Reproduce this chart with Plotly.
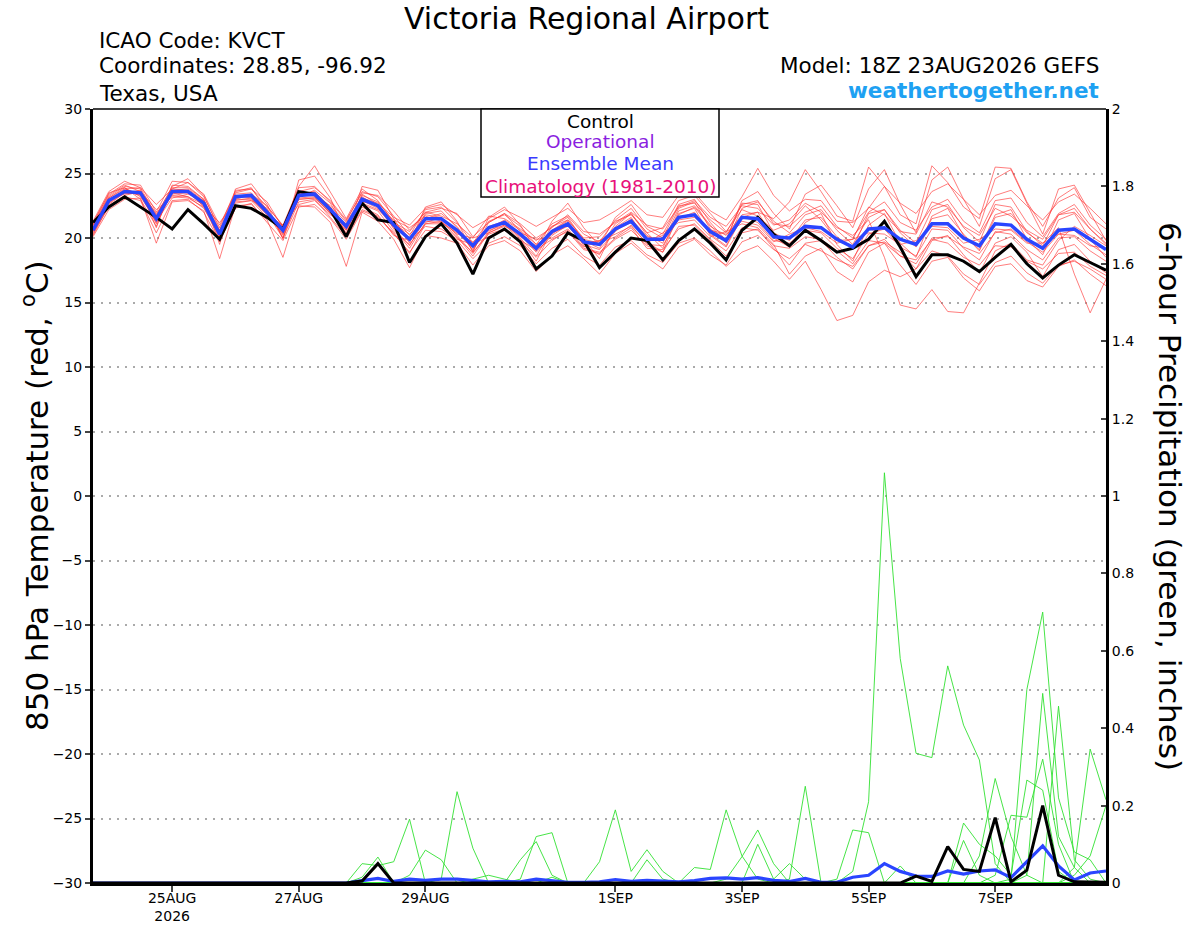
import plotly.graph_objects as go
import pandas as pd

# ---------------- data ----------------
times = pd.date_range("2026-08-23 18:00", periods=65, freq="6h")

control_temp = [21.2, 22.4, 23.2, 22.4, 21.6, 20.7, 22.2, 21.1, 19.9, 22.5, 22.3, 21.6, 20.7,
                23.6, 23.4, 22.2, 20.1, 22.7, 21.4, 21.2, 18.1, 20.1, 21.1, 19.6, 17.2, 20.0,
                20.7, 19.7, 17.6, 18.6, 20.4, 19.8, 17.7, 18.9, 20.0, 19.8, 18.3, 19.8, 20.7,
                19.6, 18.3, 20.6, 21.6, 20.3, 19.4, 20.6, 19.8, 18.9, 19.2, 19.9, 21.3, 19.3,
                17.0, 18.7, 18.7, 18.2, 17.4, 18.5, 19.5, 18.0, 16.9, 17.9, 18.7, 18.1, 17.5]

mean_temp = [20.6, 22.9, 23.6, 23.5, 21.5, 23.6, 23.6, 22.7, 20.3, 23.2, 23.3, 22.0, 20.6,
             23.3, 23.4, 22.2, 20.9, 23.0, 22.5, 21.0, 19.9, 21.5, 21.5, 20.6, 19.4, 20.8,
             21.2, 20.3, 19.2, 20.5, 21.1, 19.7, 19.5, 20.7, 21.3, 19.9, 19.9, 21.6, 21.8,
             20.5, 19.8, 21.6, 21.5, 20.1, 20.0, 20.9, 20.8, 19.9, 19.3, 20.7, 20.8, 19.9,
             19.5, 21.1, 21.1, 20.0, 19.4, 21.1, 21.0, 19.9, 19.2, 20.6, 20.7, 19.9, 19.1]

member_temps = [
    [21.0, 23.2, 24.0, 23.8, 20.8, 24.1, 24.0, 23.0, 19.5, 23.8, 24.2, 22.6, 19.9,
     24.5, 24.8, 23.1, 20.2, 24.0, 23.7, 21.5, 19.6, 22.4, 22.8, 21.3, 18.9, 21.6,
     22.4, 21.0, 19.0, 21.3, 22.7, 20.8, 19.4, 21.6, 22.6, 20.9, 20.3, 22.6, 23.0,
     21.2, 19.8, 22.9, 23.6, 21.9, 20.7, 23.4, 24.1, 22.5, 20.8, 23.8, 25.3, 22.6,
     20.4, 24.5, 25.5, 23.0, 20.9, 24.6, 25.3, 22.7, 20.3, 23.8, 24.1, 22.0, 19.8],
    [20.2, 22.5, 23.3, 23.6, 22.2, 23.2, 23.1, 22.4, 21.2, 22.8, 22.9, 21.6, 21.0,
     22.6, 22.9, 21.8, 21.0, 22.4, 21.8, 20.2, 19.8, 20.9, 20.7, 19.9, 19.5, 20.1,
     20.6, 19.8, 19.1, 19.9, 20.5, 19.1, 18.8, 19.9, 20.6, 19.4, 18.9, 20.9, 21.0,
     19.8, 18.6, 20.4, 20.7, 19.2, 17.9, 19.6, 19.8, 18.5, 17.6, 19.4, 19.7, 18.9,
     17.6, 19.8, 20.2, 18.7, 17.3, 19.6, 20.1, 18.9, 17.0, 19.1, 19.5, 18.2, 17.3],
    [20.9, 23.1, 23.9, 23.2, 21.3, 23.1, 23.4, 22.9, 20.5, 22.7, 22.9, 22.3, 20.0,
     22.8, 23.0, 21.6, 20.1, 22.2, 21.7, 20.3, 18.9, 20.6, 20.5, 19.8, 18.4, 19.6,
     20.1, 19.4, 18.0, 19.2, 19.9, 18.6, 17.9, 19.3, 19.8, 18.7, 18.1, 19.6, 20.0,
     19.0, 17.8, 18.9, 19.4, 18.2, 16.8, 18.2, 16.0, 13.6, 14.0, 16.6, 17.5, 17.0,
     17.6, 19.0, 18.6, 17.2, 16.4, 18.1, 18.6, 17.3, 16.5, 17.9, 18.2, 17.6, 16.8],
    [20.5, 22.7, 23.8, 23.9, 22.6, 23.8, 24.3, 23.4, 21.0, 23.5, 23.8, 22.8, 20.8,
     23.6, 23.9, 22.9, 21.4, 23.5, 23.3, 22.1, 20.6, 22.0, 22.3, 21.9, 20.1, 21.2,
     21.9, 21.1, 20.0, 20.8, 21.8, 20.5, 20.3, 21.2, 22.0, 21.0, 20.7, 22.4, 22.9,
     21.6, 20.9, 22.5, 22.3, 21.0, 21.4, 22.7, 22.0, 20.8, 20.2, 21.4, 18.5, 14.8,
     14.5, 16.0, 14.3, 14.2, 16.5, 19.0, 19.6, 18.3, 17.9, 19.8, 20.9, 20.2, 19.4],
    [20.4, 22.4, 23.2, 22.9, 20.4, 22.9, 23.0, 22.0, 19.7, 22.3, 22.7, 21.2, 19.8,
     22.4, 22.6, 21.5, 19.9, 22.1, 21.6, 20.4, 18.8, 21.1, 21.3, 20.1, 18.6, 20.4,
     21.0, 19.9, 18.2, 20.6, 21.4, 19.9, 18.4, 20.9, 21.9, 20.4, 19.2, 22.1, 22.5,
     21.0, 19.6, 22.3, 22.8, 21.3, 20.4, 21.8, 22.2, 20.6, 19.5, 21.6, 22.2, 20.4,
     19.3, 21.5, 21.8, 20.3, 19.0, 21.6, 21.9, 20.4, 19.6, 20.8, 17.2, 14.2, 16.8],
    [21.3, 23.6, 24.4, 23.9, 21.7, 24.0, 24.6, 23.3, 20.6, 23.6, 23.9, 22.1, 20.7,
     24.0, 25.6, 23.6, 21.5, 23.8, 22.9, 21.2, 20.5, 22.0, 21.7, 21.1, 20.0, 21.7,
     21.5, 20.7, 19.8, 20.9, 21.4, 20.0, 20.1, 21.3, 21.8, 20.4, 20.8, 22.9, 23.3,
     21.9, 20.5, 22.2, 21.7, 20.6, 21.1, 22.5, 21.4, 19.8, 19.9, 22.4, 21.8, 20.5,
     20.3, 22.8, 22.4, 20.9, 20.2, 22.3, 21.7, 20.6, 19.9, 21.8, 22.0, 20.7, 19.6],
    [20.7, 23.0, 23.4, 23.6, 21.9, 23.5, 23.2, 22.6, 20.1, 23.0, 23.0, 21.8, 20.3,
     23.1, 23.2, 21.9, 20.6, 22.9, 22.3, 20.8, 19.4, 21.5, 21.9, 20.9, 19.2, 20.7,
     21.4, 20.6, 19.5, 20.3, 21.2, 19.9, 19.6, 20.1, 21.0, 19.5, 19.4, 21.5, 22.0,
     20.3, 19.4, 21.7, 21.2, 19.8, 19.6, 20.6, 20.4, 19.2, 18.4, 20.3, 20.7, 19.3,
     18.6, 20.7, 20.6, 19.2, 18.3, 20.5, 20.3, 19.1, 18.3, 20.0, 20.1, 19.0, 18.2],
    [20.6, 22.8, 23.7, 23.3, 21.2, 23.7, 23.8, 22.9, 20.2, 23.4, 23.5, 22.2, 20.4,
     23.4, 23.6, 22.4, 20.7, 23.3, 22.8, 21.3, 20.0, 21.8, 21.6, 20.5, 19.1, 20.9,
     21.3, 20.2, 18.9, 20.2, 21.0, 19.5, 19.1, 20.5, 21.5, 20.1, 19.8, 21.8, 22.4,
     20.9, 20.2, 21.8, 22.0, 21.5, 22.8, 25.3, 23.6, 21.7, 21.3, 25.5, 24.0, 21.8,
     21.1, 25.6, 24.3, 22.4, 21.5, 25.5, 25.4, 22.8, 20.9, 23.1, 23.9, 21.6, 20.7],
    [20.1, 22.2, 23.0, 23.1, 19.6, 22.8, 22.9, 22.1, 18.4, 22.5, 22.6, 21.4, 18.5,
     22.5, 22.4, 21.2, 17.8, 22.0, 21.3, 19.9, 17.7, 20.2, 20.0, 19.6, 17.9, 19.4,
     19.8, 19.0, 17.4, 18.7, 19.4, 18.4, 17.2, 18.8, 19.6, 18.5, 17.6, 19.3, 19.9,
     18.7, 17.9, 19.7, 20.2, 19.1, 18.4, 19.5, 19.0, 18.3, 17.8, 19.4, 19.9, 18.6,
     18.0, 20.0, 20.1, 19.3, 18.8, 20.4, 20.7, 19.7, 18.9, 20.3, 20.6, 19.5, 18.7],
    [21.1, 23.5, 23.9, 23.0, 20.9, 23.8, 23.7, 22.4, 19.9, 23.3, 23.1, 21.9, 20.0,
     23.2, 23.7, 22.7, 20.6, 23.4, 22.6, 21.0, 19.9, 21.9, 22.1, 20.8, 19.0, 21.2,
     21.9, 20.5, 19.0, 20.9, 21.6, 19.8, 19.2, 21.1, 21.9, 20.2, 19.6, 22.3, 22.8,
     20.7, 19.9, 22.7, 22.6, 20.4, 19.8, 21.4, 21.6, 20.1, 19.2, 21.9, 22.2, 20.6,
     19.6, 22.2, 22.6, 20.8, 19.7, 22.6, 22.4, 20.5, 19.4, 21.8, 22.3, 20.7, 19.5],
    [20.8, 22.9, 23.5, 23.4, 21.4, 23.4, 23.5, 22.5, 20.6, 23.1, 23.4, 22.0, 20.9,
     23.0, 23.1, 22.0, 21.1, 22.7, 22.2, 21.1, 20.3, 21.3, 21.2, 20.4, 19.7, 20.6,
     21.0, 20.1, 19.4, 20.4, 20.9, 19.6, 19.8, 20.6, 21.2, 19.8, 20.2, 21.4, 21.6,
     20.6, 20.3, 21.3, 21.0, 19.7, 20.3, 20.8, 20.5, 19.6, 19.9, 20.4, 20.3, 19.5,
     19.8, 20.9, 20.8, 19.6, 19.9, 20.7, 20.6, 19.6, 19.6, 20.3, 20.2, 19.4, 19.2],
    [20.3, 22.6, 23.5, 23.7, 21.8, 23.9, 23.9, 23.0, 20.4, 23.0, 23.4, 22.5, 20.9,
     23.5, 23.3, 22.5, 21.2, 23.2, 22.4, 21.4, 20.8, 21.7, 21.3, 20.3, 20.0, 20.4,
     20.9, 20.4, 19.9, 20.0, 20.7, 19.3, 19.8, 20.3, 20.9, 19.6, 20.4, 21.2, 21.4,
     20.1, 20.5, 21.1, 20.8, 19.5, 17.2, 18.6, 19.2, 17.4, 16.6, 18.9, 19.6, 17.9,
     16.4, 18.2, 18.5, 16.9, 15.9, 17.8, 18.0, 16.7, 16.2, 17.8, 18.3, 17.2, 16.3],
    [21.0, 23.3, 24.1, 23.6, 21.1, 23.6, 23.5, 22.8, 20.0, 23.2, 23.2, 22.1, 20.2,
     23.3, 23.5, 22.1, 20.4, 22.8, 22.6, 20.7, 19.2, 21.2, 21.6, 20.2, 18.8, 20.5,
     21.2, 20.0, 18.6, 20.6, 21.3, 19.4, 18.7, 20.8, 21.6, 19.7, 18.9, 21.9, 22.3,
     20.2, 19.3, 21.6, 22.0, 20.0, 19.3, 21.2, 21.9, 19.5, 18.2, 21.0, 21.9, 19.6,
     18.5, 21.7, 22.3, 20.2, 19.1, 21.8, 22.2, 19.9, 18.7, 21.4, 21.9, 19.9, 18.5],
    [20.7, 23.1, 23.8, 23.4, 21.5, 23.5, 23.7, 22.8, 20.3, 23.2, 23.3, 22.0, 20.5,
     23.3, 23.4, 22.3, 21.0, 23.1, 22.7, 21.6, 21.0, 22.3, 22.6, 21.8, 20.8, 21.5,
     22.2, 21.6, 20.9, 21.6, 22.3, 21.2, 21.4, 22.1, 22.9, 21.8, 21.6, 23.3, 23.5,
     22.1, 21.4, 23.2, 25.4, 23.3, 22.1, 23.0, 22.9, 21.3, 21.2, 22.3, 24.0, 22.7,
     21.9, 23.6, 24.2, 23.0, 21.8, 23.3, 23.7, 22.5, 21.4, 22.8, 23.4, 22.3, 21.1],
    [20.5, 22.7, 23.5, 23.4, 21.6, 23.3, 23.2, 22.3, 20.2, 22.9, 23.1, 21.8, 20.4,
     23.0, 23.1, 21.9, 20.8, 22.6, 22.1, 20.5, 19.5, 21.1, 21.1, 20.0, 18.9, 20.3,
     20.7, 19.7, 18.5, 19.8, 20.6, 19.2, 18.9, 20.0, 20.8, 19.2, 19.1, 20.7, 21.1,
     19.9, 19.0, 20.8, 20.6, 19.4, 19.2, 20.1, 19.9, 19.0, 18.0, 19.8, 19.6, 18.6,
     18.3, 19.9, 19.6, 18.5, 17.9, 19.4, 19.3, 18.2, 17.6, 18.8, 18.9, 17.8, 17.1],
    [21.2, 23.4, 24.2, 24.1, 22.0, 24.4, 24.3, 23.2, 20.8, 23.7, 23.8, 22.4, 21.0,
     23.9, 24.0, 22.8, 21.3, 23.6, 23.2, 21.7, 20.2, 22.2, 22.4, 21.2, 19.6, 21.3,
     21.8, 20.9, 19.5, 21.1, 21.7, 20.3, 19.7, 21.4, 22.3, 20.7, 20.0, 22.5, 22.7,
     21.4, 20.4, 22.6, 22.9, 21.1, 20.9, 22.0, 22.5, 20.9, 20.0, 22.0, 22.8, 21.2,
     20.6, 22.4, 23.0, 21.3, 20.4, 22.9, 23.1, 21.2, 20.1, 21.9, 22.6, 21.0, 19.9],
]

control_precip = [0.0] * 17 + [0.005, 0.05, 0.0] + [0.0] * 32 + \
    [0.018, 0.004, 0.094, 0.035, 0.03, 0.169, 0.003, 0.033, 0.20, 0.02, 0.003, 0.002, 0.002]

mean_precip = [0.0] * 17 + \
    [0.006, 0.012, 0.004, 0.01, 0.007, 0.01, 0.01, 0.006, 0.003, 0.004, 0.003, 0.01, 0.005,
     0.002, 0.002, 0.003, 0.009, 0.004, 0.007, 0.004, 0.003, 0.006, 0.012, 0.013, 0.01,
     0.014, 0.007, 0.004, 0.012, 0.002, 0.002, 0.015, 0.02, 0.05, 0.03, 0.018, 0.017,
     0.031, 0.023, 0.031, 0.034, 0.014, 0.056, 0.096, 0.044, 0.008, 0.026, 0.031]

# precipitation members: (first index, values read from that step on; zero elsewhere)
member_precips = [
    (16, [0.0, 0.05, 0.045, 0.055, 0.165, 0.0]),
    (16, [0.0, 0.015, 0.067, 0.0, 0.02, 0.085, 0.06, 0.0]),
    (21, [0.0, 0.01, 0.236, 0.09, 0.0]),
    (26, [0.0, 0.06, 0.107, 0.02, 0.0]),
    (26, [0.0, 0.01, 0.12, 0.13, 0.0]),
    (23, [0.0, 0.01, 0.02, 0.01, 0.0, 0.0, 0.015, 0.0]),
    (31, [0.0, 0.055, 0.189, 0.03, 0.086, 0.03, 0.0, 0.04, 0.035, 0.189, 0.07, 0.01, 0.0]),
    (34, [0.0, 0.06, 0.01, 0.0, 0.0, 0.0, 0.01, 0.068, 0.137, 0.05, 0.0]),
    (41, [0.0, 0.10, 0.01, 0.05, 0.01, 0.0]),
    (44, [0.01, 0.25, 0.0]),
    (47, [0.0, 0.03, 0.21, 1.06, 0.58, 0.335, 0.324, 0.561, 0.408, 0.318, 0.05, 0.0]),
    (47, [0.01, 0.137, 0.13, 0.0, 0.044, 0.0]),
    (55, [0.0, 0.07, 0.27, 0.12, 0.02, 0.0]),
    (56, [0.0, 0.02, 0.175, 0.17, 0.32, 0.10, 0.0]),
    (57, [0.0, 0.01, 0.50, 0.70, 0.22, 0.08, 0.06, 0.0]),
    (58, [0.0, 0.02, 0.49, 0.12, 0.04, 0.0, 0.0]),
    (59, [0.0, 0.0, 0.457, 0.06, 0.01, 0.0]),
    (61, [0.0, 0.04, 0.346, 0.215]),
    (54, [0.0, 0.155, 0.10, 0.07, 0.02, 0.266, 0.24, 0.03, 0.0]),
    (54, [0.0, 0.11, 0.02, 0.0, 0.0, 0.0, 0.0, 0.0, 0.02, 0.07, 0.20]),
]

tick_dates = ["2026-08-25", "2026-08-27", "2026-08-29", "2026-09-01",
              "2026-09-03", "2026-09-05", "2026-09-07"]
tick_labels = ["25AUG<br>2026", "27AUG", "29AUG", "1SEP", "3SEP", "5SEP", "7SEP"]

# ---------------- figure ----------------
N = len(times)
fig = go.Figure()

for m in member_temps:
    fig.add_trace(go.Scatter(x=times, y=m, mode="lines", yaxis="y",
                             line=dict(color="rgba(255,50,50,0.8)", width=0.8),
                             hoverinfo="skip", showlegend=False))

for start, vals in member_precips:
    full = [0.0] * start + vals + [0.0] * (N - start - len(vals))
    fig.add_trace(go.Scatter(x=times, y=full, mode="lines", yaxis="y2",
                             line=dict(color="rgb(50,225,50)", width=0.9),
                             hoverinfo="skip", showlegend=False))

fig.add_trace(go.Scatter(x=times, y=mean_precip, mode="lines", yaxis="y2",
                         line=dict(color="#2a45ff", width=3.2), showlegend=False))
fig.add_trace(go.Scatter(x=times, y=control_precip, mode="lines", yaxis="y2",
                         line=dict(color="black", width=3), showlegend=False))
fig.add_trace(go.Scatter(x=times, y=control_temp, mode="lines", yaxis="y",
                         line=dict(color="black", width=3), showlegend=False))
fig.add_trace(go.Scatter(x=times, y=mean_temp, mode="lines", yaxis="y",
                         line=dict(color="#2a45ff", width=3.5), showlegend=False))

font_family = "DejaVu Sans, Liberation Sans, sans-serif"

fig.update_layout(
    width=1200, height=927,
    margin=dict(l=93, r=94, t=109, b=44),
    paper_bgcolor="white", plot_bgcolor="white",
    font=dict(family=font_family, color="black"),
    xaxis=dict(type="date", range=[times[0], times[-1]], automargin=False,
               tickvals=tick_dates, ticktext=tick_labels, ticklabelstandoff=-6,
               tickfont=dict(size=14), ticks="outside", ticklen=6, tickwidth=1.5,
               showgrid=False, zeroline=False,
               showline=True, linewidth=3, linecolor="black"),
    yaxis=dict(range=[-30, 30], dtick=5, tick0=-30, automargin=False,
               tickfont=dict(size=14), ticks="outside", ticklen=5, tickwidth=1.5,
               showgrid=True, gridcolor="#aaaaaa", griddash="2px,6px", gridwidth=1.5,
               zeroline=False, showline=True, linewidth=3, linecolor="black"),
    yaxis2=dict(range=[0, 2], dtick=0.2, tick0=0, overlaying="y", side="right",
                automargin=False,
                tickfont=dict(size=14), ticks="inside", ticklen=5, tickwidth=1.5,
                showgrid=False, zeroline=False,
                showline=True, linewidth=3, linecolor="black"),
)

def px_x(px):
    return (px - 93) / 1013

def px_y(py):
    return (883 - py) / 774

shapes = [
    dict(type="line", xref="paper", yref="paper", x0=0, x1=1, y0=1, y1=1,
         line=dict(color="black", width=1.5)),
    dict(type="rect", xref="paper", yref="paper", x0=px_x(481), x1=px_x(719),
         y0=px_y(197), y1=1, line=dict(color="black", width=1.5),
         fillcolor="white", layer="above"),
]
fig.update_layout(shapes=shapes)

ann = []
def text(s, x, y, size, color="black", xanchor="center", angle=0):
    ann.append(dict(text=s, x=x, y=y, xref="paper", yref="paper", showarrow=False,
                    xanchor=xanchor, yanchor="middle", textangle=angle,
                    font=dict(size=size, color=color, family=font_family)))

text("Victoria Regional Airport", px_x(586), px_y(18), 30)
text("ICAO Code: KVCT", px_x(97), px_y(40), 21.5, xanchor="left")
text("Coordinates: 28.85, -96.92", px_x(97), px_y(66), 21.5, xanchor="left")
text("Texas, USA", px_x(97), px_y(93), 21.5, xanchor="left")
text("Model: 18Z 23AUG2026 GEFS", px_x(1101), px_y(65), 21.5, xanchor="right")
text("<b>weathertogether.net</b>", px_x(1101), px_y(90), 21.5, color="#1ea1f2", xanchor="right")

text("Control", px_x(600), px_y(121), 18.5)
text("Operational", px_x(600), px_y(142), 18.5, color="#8a1ee0")
text("Ensemble Mean", px_x(600), px_y(163), 18.5, color="#3a3aff")
text("Climatology (1981-2010)", px_x(600), px_y(186), 18.5, color="#e8107a")

text("850 hPa Temperature (red, <sup>o</sup>C)", px_x(35), px_y(496), 31, angle=-90)
text("6-hour Precipitation (green, inches)", px_x(1170), px_y(496), 31, angle=90)

fig.update_layout(annotations=ann)

fig.write_html("out.html", config={"displayModeBar": False},
               post_script="document.body.style.margin='0';")
